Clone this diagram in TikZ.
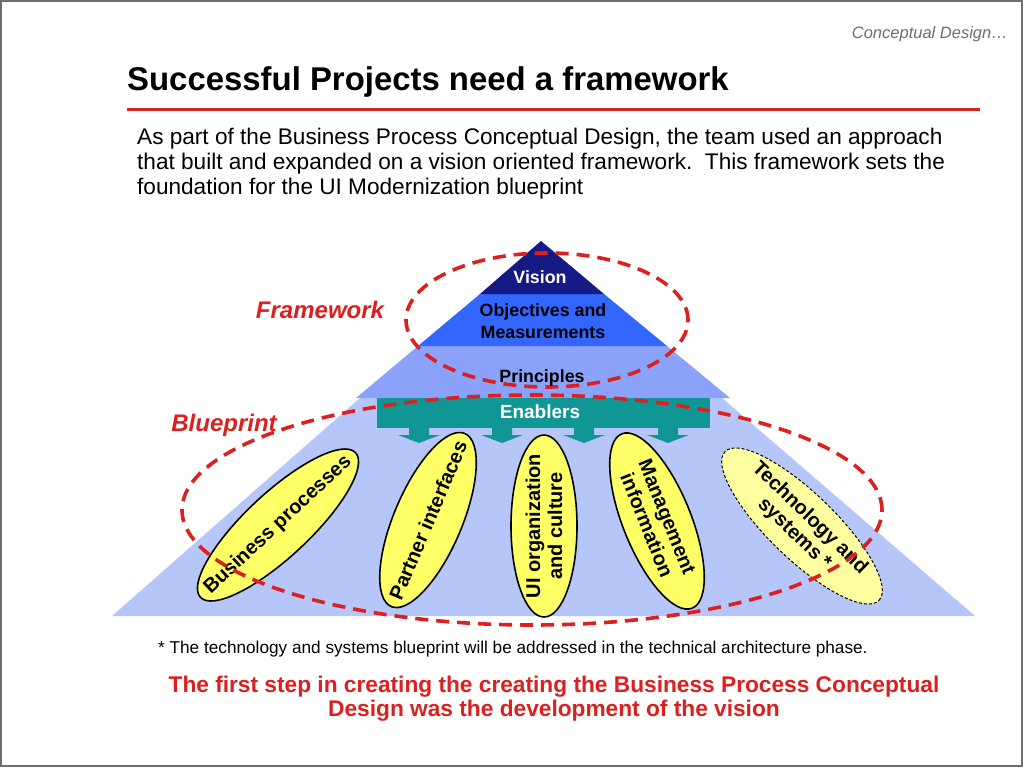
\documentclass[tikz,border=0pt]{standalone}
\usepackage{fontspec}
\setmainfont{Liberation Sans}
\usetikzlibrary{shapes.geometric}
\definecolor{redc}{RGB}{220,32,32}
\definecolor{rulec}{RGB}{212,40,30}
\definecolor{visc}{RGB}{22,26,132}
\definecolor{objc}{RGB}{51,102,255}
\definecolor{princ}{RGB}{138,162,250}
\definecolor{basec}{RGB}{182,198,248}
\definecolor{tealc}{RGB}{17,150,150}
\definecolor{ylw}{RGB}{255,255,102}
\definecolor{ylwl}{RGB}{255,255,160}
\definecolor{framec}{RGB}{110,110,110}
\begin{document}
\begin{tikzpicture}[x=1pt,y=-1pt,
  plabel/.style={font=\bfseries\fontsize{17.8}{22}\selectfont, align=center, inner sep=0},
  oval/.style={ellipse, draw=black, line width=1.6pt, fill=ylw, inner sep=0},
  otext/.style={font=\bfseries\fontsize{20}{22}\selectfont, align=center, inner sep=0},
  reddash/.style={ellipse, draw=redc, line width=3.6pt, dash pattern=on 13pt off 8pt, inner sep=0},
  redlabel/.style={font=\bfseries\itshape\fontsize{24}{28}\selectfont, text=redc, inner sep=0}]
\useasboundingbox (0,0) rectangle (1024,768);
\fill[white] (0,0) rectangle (1024,768);
\draw[framec, line width=1.5pt] (1,1) rectangle (1022,766);

% header
\node[anchor=base east, font=\itshape\fontsize{16.5}{20}\selectfont, text=framec, inner sep=0] (hdr) at (1008,39) {Conceptual Design…};
\node[anchor=base west, font=\bfseries\fontsize{32.9}{36}\selectfont, inner sep=0] (title) at (127,90) {Successful Projects need a framework};
\draw[rulec, line width=3pt] (127,109) -- (980,109);
\node[anchor=north west, align=left, font=\fontsize{22.6}{25}\selectfont, inner sep=0] (intro) at (137,128)
  {As part of the Business Process Conceptual Design, the team used an approach\\that built and expanded on a vision oriented framework.\ \ This framework sets the\\foundation for the UI Modernization blueprint};

% pyramid
\fill[basec] (360,398) -- (722,398) -- (975,616) -- (112,616) -- cycle;
\fill[princ] (418,346) -- (667,346) -- (730,398) -- (356,398) -- cycle;
\fill[objc] (480,294) -- (604,294) -- (667,346) -- (418,346) -- cycle;
\fill[visc] (541,241) -- (604,294) -- (480,294) -- cycle;

% enabler arrows
\foreach \cx in {419,502,584,668}{
  \fill[tealc] (\cx-10,426) -- (\cx+10,426) -- (\cx+10,435) -- (\cx+21,435) -- (\cx,443) -- (\cx-21,435) -- (\cx-10,435) -- cycle;
}
\node[fill=tealc, minimum width=333pt, minimum height=30pt, inner sep=0] (enab) at (543.5,413) {};

% ovals
\node[oval, minimum width=212pt, minimum height=64pt, rotate=43] (bp) at (278,525) {};
\node[oval, minimum width=188pt, minimum height=68pt, rotate=67] (pi) at (428,520) {};
\node[oval, minimum width=182pt, minimum height=66pt, rotate=90] (ui) at (544,526) {};
\node[oval, minimum width=188pt, minimum height=68pt, rotate=-68] (mi) at (657,521) {};
\node[ellipse, draw=black, line width=1pt, dash pattern=on 3pt off 2pt, fill=ylwl, inner sep=0, minimum width=214pt, minimum height=66pt, rotate=-44] (ts) at (802,526) {};

\node[otext, rotate=43] (bpt) at (bp.center) {Business processes};
\node[otext, rotate=67] (pit) at (pi.center) {Partner interfaces};
\node[otext, rotate=90] (uit) at (ui.center) {UI organization\\and culture};
\node[otext, rotate=-68] (mit) at (mi.center) {Management\\information};
\node[otext, rotate=-44] (tst) at (ts.center) {Technology and\\systems *};

% red dashed groupings
\node[reddash, minimum width=282pt, minimum height=134pt] (fw) at (547,320) {};
\node[reddash, minimum width=700pt, minimum height=230pt] (bpr) at (532,510) {};
\node[redlabel, anchor=base] (fwl) at (320,318.6) {Framework};
\node[redlabel, anchor=base] (bpl) at (224,431.6) {Blueprint};

% pyramid labels
\node[plabel, text=white, anchor=base] (vis) at (540,283.4) {Vision};
\node[plabel, anchor=north] (obj) at (543,303.2) {Objectives and\\Measurements};
\node[plabel, anchor=base] (prin) at (542,382) {Principles};
\node[plabel, text=white, anchor=base, font=\bfseries\fontsize{19}{22}\selectfont] (ent) at (540,418.5) {Enablers};

% footer
\node[anchor=base west, font=\fontsize{17.2}{19}\selectfont, inner sep=0] (note) at (158,653) {* The technology and systems blueprint will be addressed in the technical architecture phase.};
\node[anchor=north, align=center, font=\bfseries\fontsize{22.7}{24}\selectfont, text=redc, inner sep=0] (concl) at (554,675.5)
  {The first step in creating the creating the Business Process Conceptual\\Design was the development of the vision};
\end{tikzpicture}
\end{document}
